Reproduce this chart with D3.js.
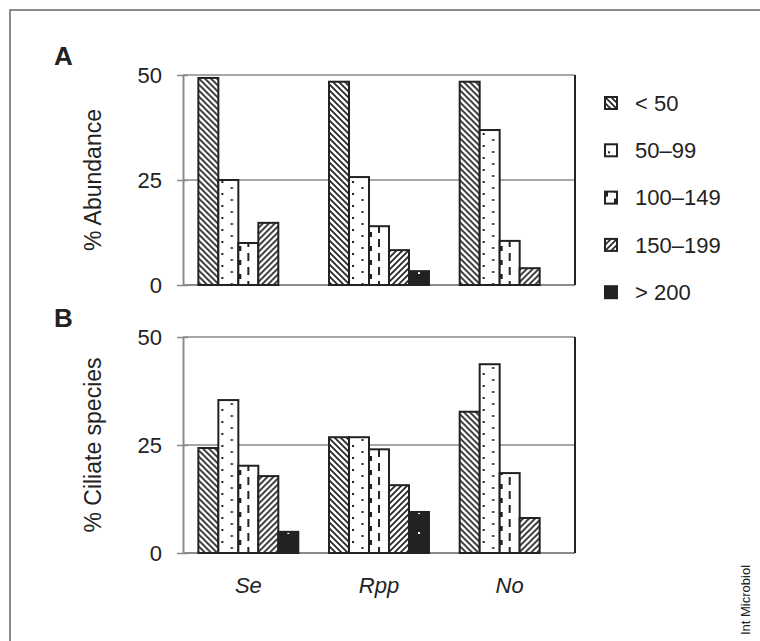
<!DOCTYPE html>
<html>
<head>
<meta charset="utf-8">
<script src="https://cdn.jsdelivr.net/npm/d3@7"></script>
<style>
  body { margin: 0; background: #fff; }
  svg { display: block; font-family: "Liberation Sans", Arial, sans-serif; }
</style>
</head>
<body>
<svg width="760" height="641"></svg>
<script>
const groups = ["Se", "Rpp", "No"];
const sizes = ["< 50", "50–99", "100–149", "150–199", "> 200"];

// % abundance per size class (panel A)
const abundanceSe = [49.3, 25, 10, 14.8, 0];
const abundanceRpp = [48.4, 25.7, 14, 8.3, 3.3];
const abundanceNo = [48.4, 36.9, 10.5, 4, 0];

// % ciliate species per size class (panel B)
const speciesSe = [24.3, 35.4, 20.2, 17.8, 4.9];
const speciesRpp = [26.8, 26.8, 24, 15.7, 9.5];
const speciesNo = [32.7, 43.7, 18.5, 8.1, 0];

const yTicks = [0, 25, 50];

const svg = d3.select("svg");
const ink = "#222";
const grid = "#8a8a8a";

// outer frame
svg.append("rect")
  .attr("x", 10).attr("y", 10)
  .attr("width", 800).attr("height", 700)
  .attr("fill", "none").attr("stroke", "#666").attr("stroke-width", 1.5);

// hatch patterns
const defs = svg.append("defs");
const patIds = ["p0", "p1", "p2", "p3", "p4"];

let p = defs.append("pattern").attr("id", "p0").attr("patternUnits", "userSpaceOnUse")
  .attr("width", 6).attr("height", 6);
p.append("rect").attr("width", 6).attr("height", 6).attr("fill", "#fff");
p.append("path").attr("d", "M-1,-1L7,7M-4,2L2,8M2,-4L8,2")
  .attr("stroke", ink).attr("stroke-width", 1.7);

p = defs.append("pattern").attr("id", "p1").attr("patternUnits", "userSpaceOnUse")
  .attr("width", 20).attr("height", 12);
p.append("rect").attr("width", 20).attr("height", 12).attr("fill", "#fff");
p.append("rect").attr("x", 3).attr("y", 1).attr("width", 2).attr("height", 2).attr("fill", ink);
p.append("rect").attr("x", 12.5).attr("y", 7).attr("width", 2).attr("height", 2).attr("fill", ink);

p = defs.append("pattern").attr("id", "p2").attr("patternUnits", "userSpaceOnUse")
  .attr("width", 20).attr("height", 14);
p.append("rect").attr("width", 20).attr("height", 14).attr("fill", "#fff");
p.append("rect").attr("x", 9).attr("y", 1).attr("width", 2).attr("height", 8).attr("fill", ink);
p.append("rect").attr("x", 0).attr("y", 8).attr("width", 3).attr("height", 5).attr("fill", ink);

p = defs.append("pattern").attr("id", "p3").attr("patternUnits", "userSpaceOnUse")
  .attr("width", 6).attr("height", 6);
p.append("rect").attr("width", 6).attr("height", 6).attr("fill", "#fff");
p.append("path").attr("d", "M-1,7L7,-1M-4,4L2,-2M2,10L8,4")
  .attr("stroke", ink).attr("stroke-width", 1.7);

p = defs.append("pattern").attr("id", "p4").attr("patternUnits", "userSpaceOnUse")
  .attr("width", 20).attr("height", 20);
p.append("rect").attr("width", 20).attr("height", 20).attr("fill", ink);
p.append("rect").attr("x", 9).attr("y", 12).attr("width", 2).attr("height", 2).attr("fill", "#fff");

const x0 = d3.scaleBand()
  .domain(groups)
  .range([183, 575])
  .paddingInner(0.235)
  .paddingOuter(0.1175);

const x1 = d3.scaleBand()
  .domain(sizes)
  .range([0, x0.bandwidth()]);

function drawPanel(rows, top, bottom, letter, title) {
  const y = d3.scaleLinear().domain([0, 50]).range([bottom, top]);
  const g = svg.append("g");

  // horizontal gridlines
  g.selectAll(".grid")
    .data(yTicks)
    .enter().append("line")
      .attr("x1", 183).attr("x2", 575)
      .attr("y1", d => y(d)).attr("y2", d => y(d))
      .attr("stroke", grid)
      .attr("stroke-width", d => d === 0 ? 2 : 1.5);

  // right edge
  g.append("line")
    .attr("x1", 575).attr("x2", 575)
    .attr("y1", y(50)).attr("y2", y(0))
    .attr("stroke", ink).attr("stroke-width", 2);

  // bars
  groups.forEach((grp, gi) => {
    const bg = g.append("g").attr("transform", `translate(${x0(grp)},0)`);
    const vals = sizes.map((s, i) => ({size: s, i: i, v: rows[gi][i]})).filter(d => d.v > 0);
    bg.selectAll("rect")
      .data(vals)
      .enter().append("rect")
        .attr("x", d => x1(d.size))
        .attr("y", d => y(d.v))
        .attr("width", x1.bandwidth())
        .attr("height", d => y(0) - y(d.v))
        .attr("fill", d => `url(#${patIds[d.i]})`)
        .attr("stroke", ink)
        .attr("stroke-width", 2);
  });

  // y axis
  const ax = g.append("g")
    .attr("transform", "translate(183,0)")
    .call(d3.axisLeft(y).tickValues(yTicks).tickSizeInner(6).tickSizeOuter(0).tickPadding(15));
  ax.select(".domain").attr("stroke", grid).attr("stroke-width", 2);
  ax.selectAll(".tick line").attr("x1", 5).attr("stroke", grid).attr("stroke-width", 1.5);
  ax.selectAll(".tick text")
    .attr("font-size", 22)
    .attr("font-family", "Liberation Sans, Arial, sans-serif")
    .attr("fill", ink);

  // axis title
  svg.append("text")
    .attr("transform", `translate(101,${(top + bottom) / 2}) rotate(-90)`)
    .attr("text-anchor", "middle")
    .attr("font-size", 23)
    .attr("fill", ink)
    .text(title);

  // panel letter
  svg.append("text")
    .attr("x", 54)
    .attr("y", top - 10)
    .attr("font-size", 26)
    .attr("font-weight", "bold")
    .attr("fill", ink)
    .text(letter);

  return y;
}

drawPanel([abundanceSe, abundanceRpp, abundanceNo], 75, 285, "A", "% Abundance");
drawPanel([speciesSe, speciesRpp, speciesNo], 337, 553, "B", "% Ciliate species");

// category labels
const xa = svg.append("g")
  .attr("transform", "translate(0,553)")
  .call(d3.axisBottom(x0).tickSize(0).tickPadding(24));
xa.select(".domain").remove();
xa.selectAll(".tick text")
  .attr("font-size", 22)
  .attr("font-style", "italic")
  .attr("font-family", "Liberation Sans, Arial, sans-serif")
  .attr("fill", ink);

// legend
const legend = svg.append("g").attr("transform", "translate(605,103)");
const item = legend.selectAll("g")
  .data(sizes)
  .enter().append("g")
    .attr("transform", (d, i) => `translate(0,${i * 47.3})`);
item.append("rect")
  .attr("x", 0).attr("y", -6)
  .attr("width", 12).attr("height", 12)
  .attr("fill", (d, i) => `url(#${patIds[i]})`)
  .attr("stroke", ink).attr("stroke-width", 2);
item.append("text")
  .attr("x", 30)
  .attr("dy", "0.35em")
  .attr("font-size", 22)
  .attr("fill", ink)
  .text(d => d);

// journal credit
svg.append("text")
  .attr("transform", "translate(750,600) rotate(-90)")
  .attr("text-anchor", "middle")
  .attr("font-size", 13)
  .attr("fill", ink)
  .text("Int Microbiol");
</script>
</body>
</html>
